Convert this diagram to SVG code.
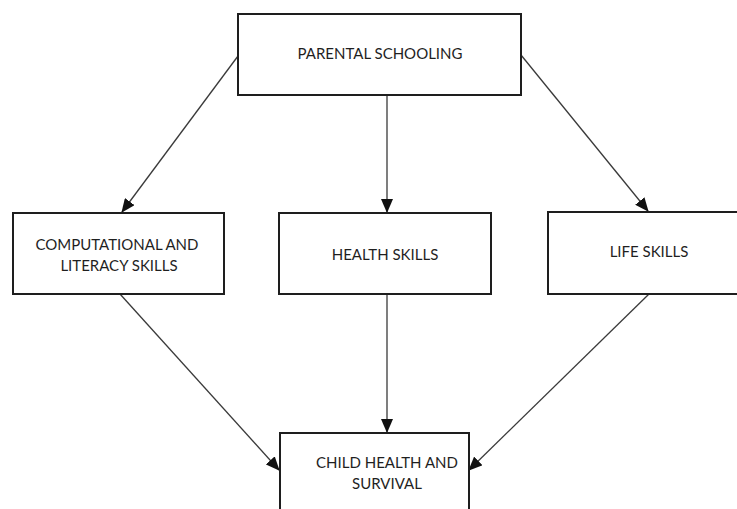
<svg xmlns="http://www.w3.org/2000/svg" width="737" height="509" viewBox="0 0 737 509">
<style>
.box{fill:#fff;stroke:#1e1e1e;stroke-width:2}
.lbl{font-family:Lato,"Open Sans",sans-serif;font-size:15px;fill:#1f1f1f;text-anchor:middle}
.edge{stroke:#3a3a3a;stroke-width:1.3;fill:none;marker-end:url(#ah)}
</style>
<defs>
<marker id="ah" markerWidth="14" markerHeight="12" refX="13" refY="6" orient="auto" markerUnits="userSpaceOnUse">
<path d="M0,0 L14,6 L0,12 Z" fill="#111"/>
</marker>
</defs>
<rect width="737" height="509" fill="#fff"/>
<g id="connectors">
<line class="edge" x1="238" y1="56" x2="122" y2="212"/>
<line class="edge" x1="387" y1="95" x2="387" y2="212"/>
<line class="edge" x1="521" y1="55" x2="648" y2="211"/>
<line class="edge" x1="120" y1="294" x2="279" y2="470"/>
<line class="edge" x1="387" y1="294" x2="387" y2="432"/>
<line class="edge" x1="649" y1="294" x2="469" y2="470"/>
</g>
<g id="parental-schooling">
<rect class="box" x="238" y="14" width="283" height="81"/>
<text class="lbl" x="380" y="59">PARENTAL SCHOOLING</text>
</g>
<g id="computational-literacy">
<rect class="box" x="13" y="213" width="211" height="81"/>
<text class="lbl" x="117" y="250">COMPUTATIONAL AND</text>
<text class="lbl" x="119" y="271">LITERACY SKILLS</text>
</g>
<g id="health-skills">
<rect class="box" x="279" y="213" width="212" height="81"/>
<text class="lbl" x="385" y="260">HEALTH SKILLS</text>
</g>
<g id="life-skills">
<rect class="box" x="548" y="212" width="202" height="82"/>
<text class="lbl" x="649" y="257">LIFE SKILLS</text>
</g>
<g id="child-health">
<rect class="box" x="280" y="433" width="189" height="90"/>
<text class="lbl" x="387" y="468">CHILD HEALTH AND</text>
<text class="lbl" x="387" y="489">SURVIVAL</text>
</g>
</svg>
